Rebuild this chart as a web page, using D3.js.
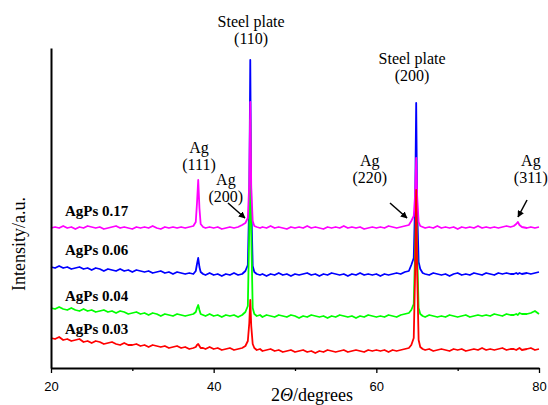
<!DOCTYPE html>
<html>
<head>
<meta charset="utf-8">
<script src="https://cdn.jsdelivr.net/npm/d3@7"></script>
<style>
body { margin: 0; background: #fff; }
svg text { font-family: "Liberation Serif", "Times New Roman", serif; fill: #000; }
.tick text { font-family: "Liberation Sans", Arial, sans-serif; }
</style>
</head>
<body>
<svg id="chart" width="548" height="405"></svg>
<script>
// 2theta positions (degrees), denser around the peaks
var angles = [
  20,20.5,21,21.5,22,22.5,23,23.5,24,24.5,25,25.5,26,26.5,27,27.5,28,28.5,29,29.5,30,30.5,31,31.5,32,32.5,33,33.5,34,34.5,35,35.5,36,36.5,37,37.5,
  37.8,37.95,38.1,38.25,38.4,
  38.7,39,39.5,40,40.5,41,41.5,42,42.5,43,43.5,
  43.9,44.2,44.38,44.5,44.62,44.8,45.0,
  45.3,45.7,46,46.5,47,47.5,48,48.5,49,49.5,50,50.5,51,51.5,52,52.5,53,53.5,54,54.5,55,55.5,56,56.5,57,57.5,58,58.5,59,59.5,60,60.5,61,61.5,62,62.5,63,63.5,64,
  64.3,64.6,64.78,64.9,65.02,65.2,65.4,
  65.7,66,66.5,67,67.5,68,68.5,69,69.5,70,70.5,71,71.5,72,72.5,73,73.5,74,74.5,75,75.5,76,76.5,
  76.9,77.2,77.4,77.6,77.9,
  78.5,79,79.5,80
];

// intensities (a.u., offset stacked as in the figure)
var agps017 = [
  140,141,140,142,140,141,139,141,140,142,141,140,141,139,140,141,142,140,141,140,139,141,140,141,140,142,140,139,141,140,141,140,141,140,141,142,
  146,165,188,160,144,
  141,140,141,140,141,139,140,141,140,141,143,
  145,150,185,266,180,147,142,
  141,140,141,140,142,140,141,140,139,141,140,141,140,142,140,141,140,139,141,140,141,140,142,140,141,140,141,139,140,141,140,141,140,142,141,140,141,142,143,
  147,152,175,210,172,146,142,
  141,140,141,140,142,140,141,140,141,139,141,140,141,140,142,140,141,140,141,140,141,142,141,
  142,144,146,143,141,
  140,141,140,141
];
var agps006 = [
  101,100,102,100,101,99,100,101,99,100,98,100,99,97,99,98,97,99,97,98,96,98,97,96,97,95,96,97,95,96,94,96,95,94,95,94,
  97,104,110,101,96,
  94,93,95,93,94,92,94,93,95,93,94,
  97,103,170,308,165,102,96,
  94,93,94,92,94,93,95,93,94,92,94,93,94,95,93,94,92,94,93,95,94,93,94,92,94,93,95,93,94,93,94,92,94,93,94,95,94,96,97,
  103,110,170,265,160,106,99,
  95,94,93,95,94,93,94,92,94,95,93,94,93,95,94,93,95,94,93,95,94,95,94,
  94,95,94,95,94,
  95,94,95,96
];
var agps004 = [
  60,59,61,59,58,60,58,57,59,57,58,56,57,58,56,57,55,57,56,54,55,56,54,55,53,55,54,52,54,53,52,54,53,52,53,54,
  56,60,63,58,54,
  53,52,54,52,53,51,53,52,53,51,53,
  56,62,140,248,135,60,54,
  52,53,51,53,52,51,53,52,51,53,52,50,52,51,53,52,51,52,50,52,51,53,52,51,52,50,52,51,53,52,51,52,51,53,52,51,53,54,55,
  58,64,120,168,115,60,54,
  52,51,53,52,51,52,51,53,52,51,52,53,51,52,53,52,53,52,54,53,52,54,53,
  53,54,53,55,54,
  54,55,57,54
];
var agps003 = [
  30,29,31,28,29,27,28,29,26,27,25,27,26,24,25,26,24,23,25,23,23,24,22,23,21,23,22,21,22,20,21,22,20,21,19,20,
  21,23,24,22,20,
  20,19,21,19,20,18,19,20,18,19,20,
  22,27,45,68,42,24,20,
  18,19,17,18,19,17,18,16,17,18,16,17,18,16,17,15,17,16,18,17,16,17,18,16,17,18,17,16,18,17,18,17,18,16,18,17,18,19,20,
  23,30,100,178,95,28,21,
  19,18,19,17,18,19,18,17,19,18,19,17,18,19,18,20,18,19,18,19,20,18,19,
  19,18,19,20,18,
  19,20,18,19
];

var seriesNames = ["AgPs 0.06", "AgPs 0.04", "AgPs 0.17", "AgPs 0.03"];
var xTicks = [20, 40, 60, 80];
var xMinorTicks = [30, 50, 70];

// peak annotations: text lines, angle, intensity
var peakLabels = [
  { lines: ["Steel plate", "(110)"], angle: 44.6, level: 341 },
  { lines: ["Steel plate", "(200)"], angle: 64.4, level: 304 },
  { lines: ["Ag", "(111)"], angle: 38.2, level: 215 },
  { lines: ["Ag", "(200)"], angle: 41.5, level: 183 },
  { lines: ["Ag", "(220)"], angle: 59.2, level: 202 },
  { lines: ["Ag", "(311)"], angle: 79.0, level: 202 }
];
var peakArrows = [
  [[41.76, 165], [43.85, 150]],
  [[61.68, 165], [63.77, 150]],
  [[78.53, 168], [77.42, 151]]
];

function drawXrd() {
  var svg = d3.select("#chart");

  var x = d3.scaleLinear().domain([20, 80]).range([51, 539]);
  var y = d3.scaleLinear().domain([0, 320]).range([368, 48]);

  var color = d3.scaleOrdinal()
                .domain(seriesNames)
                .range(["#0000ff", "#00ff00", "#ff00ff", "#ff0000"]);

  var line = d3.line()
               .x(function(d) { return x(d[0]); })
               .y(function(d) { return y(d[1]); });

  var series = [agps006, agps004, agps017, agps003];

  svg.append("g")
     .selectAll("path")
     .data(series)
     .enter().append("path")
     .attr("d", function(vals) {
        return line(angles.map(function(a, i) { return [a, vals[i]]; }));
     })
     .attr("fill", "none")
     .attr("stroke", function(d, i) { return color(seriesNames[i]); })
     .attr("stroke-width", 1.8)
     .attr("stroke-linejoin", "round");

  // axes
  var xAxis = svg.append("g")
     .attr("transform", "translate(0," + y(0) + ")")
     .call(d3.axisBottom(x).tickValues(xTicks).tickSize(5).tickSizeOuter(0).tickPadding(9));
  xAxis.select(".domain").attr("stroke-width", 2);
  xAxis.selectAll(".tick text").attr("font-size", 13).attr("fill", "#000");
  xAxis.selectAll(".tick line").attr("stroke-width", 1.3);

  svg.append("g")
     .attr("transform", "translate(0," + y(0) + ")")
     .call(d3.axisBottom(x).tickValues(xMinorTicks).tickSize(3).tickFormat(""))
     .call(function(g) { g.select(".domain").remove(); })
     .selectAll(".tick line").attr("stroke-width", 1.3);

  svg.append("g")
     .attr("transform", "translate(" + x(20) + ",0)")
     .call(d3.axisLeft(y).tickValues([]).tickSizeOuter(0))
     .select(".domain").attr("stroke-width", 2);

  // series labels
  var labelLevels = [113, 67, 152, 34];
  svg.append("g")
     .selectAll("text")
     .data(seriesNames)
     .enter().append("text")
     .attr("x", x(21.72))
     .attr("y", function(d, i) { return y(labelLevels[i]); })
     .attr("font-size", 15)
     .attr("font-weight", "bold")
     .text(function(d) { return d; });

  // peak labels
  var pl = svg.append("g")
     .selectAll("text")
     .data(peakLabels)
     .enter().append("text")
     .attr("text-anchor", "middle")
     .attr("font-size", 16)
     .attr("y", function(d) { return y(d.level); });
  pl.selectAll("tspan")
    .data(function(d) { return d.lines.map(function(t) { return { t: t, a: d.angle }; }); })
    .enter().append("tspan")
    .attr("x", function(d) { return x(d.a); })
    .attr("dy", function(d, i) { return i === 0 ? 0 : "1.05em"; })
    .text(function(d) { return d.t; });

  svg.append("defs").append("marker")
     .attr("id", "head")
     .attr("viewBox", "0 0 10 10")
     .attr("refX", 9).attr("refY", 5)
     .attr("markerWidth", 4.5).attr("markerHeight", 4.5)
     .attr("orient", "auto")
     .append("path")
     .attr("d", "M0,0L10,5L0,10z")
     .attr("fill", "#000");

  svg.append("g")
     .selectAll("path")
     .data(peakArrows)
     .enter().append("path")
     .attr("d", function(d) { return "M" + x(d[0][0]) + "," + y(d[0][1]) + "L" + x(d[1][0]) + "," + y(d[1][1]); })
     .attr("stroke", "#000")
     .attr("stroke-width", 1.5)
     .attr("marker-end", "url(#head)");

  // axis titles
  var xt = svg.append("text")
     .attr("x", 312)
     .attr("y", 401)
     .attr("text-anchor", "middle")
     .attr("font-size", 18);
  xt.append("tspan").text("2");
  xt.append("tspan").attr("font-style", "italic").text("Θ");
  xt.append("tspan").text("/degrees");

  svg.append("text")
     .attr("transform", "translate(25," + 244 + ") rotate(-90)")
     .attr("text-anchor", "middle")
     .attr("font-size", 18)
     .text("Intensity/a.u.");
}

drawXrd();
</script>
</body>
</html>
